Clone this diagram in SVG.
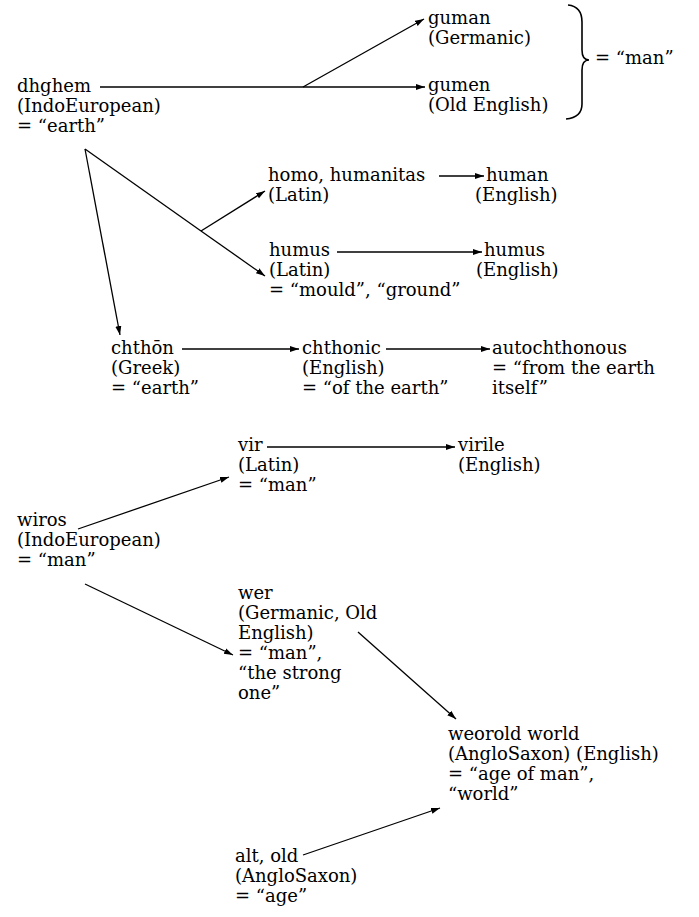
<svg xmlns="http://www.w3.org/2000/svg" width="699" height="917" viewBox="0 0 699 917">
<style>
text{font-family:"DejaVu Serif","Liberation Serif",serif;font-size:18px;fill:#000}
.c line,.c path{stroke:#000;stroke-width:1.3;fill:none}
.c line{marker-end:url(#ah)}
.brace{stroke:#000;stroke-width:1.6;fill:none}
</style>
<defs>
<marker id="ah" markerUnits="userSpaceOnUse" markerWidth="10" markerHeight="8" refX="9" refY="3.5" orient="auto">
<path d="M0,0.5 L9,3.5 L0,6.5 Z" fill="#000"/>
</marker>
</defs>
<rect width="699" height="917" fill="#fff"/>
<g class="c" id="connectors">
<path d="M100,87 L303,87"/>
<line x1="303" y1="87" x2="425" y2="87"/>
<line x1="303" y1="87" x2="424" y2="19"/>
<path d="M85,149 L201,231"/>
<line x1="201" y1="231" x2="265" y2="276"/>
<line x1="201" y1="231" x2="265" y2="191"/>
<line x1="85" y1="149" x2="120" y2="335"/>
<line x1="439" y1="176" x2="484" y2="176"/>
<line x1="337" y1="252" x2="482" y2="252"/>
<line x1="182" y1="349" x2="299" y2="349"/>
<line x1="386" y1="349" x2="490" y2="349"/>
<line x1="267" y1="447" x2="455" y2="447"/>
<line x1="78" y1="529" x2="229" y2="477"/>
<line x1="85" y1="584" x2="233" y2="655"/>
<line x1="358" y1="632" x2="456" y2="719"/>
<line x1="303" y1="855" x2="440" y2="808"/>
</g>
<g id="n-dhghem"><text x="17" y="92">dhghem</text><text x="17" y="112">(IndoEuropean)</text><text x="17" y="132">= “earth”</text></g>
<g id="n-guman"><text x="428" y="24">guman</text><text x="428" y="44">(Germanic)</text></g>
<g id="n-gumen"><text x="428" y="91">gumen</text><text x="428" y="111">(Old English)</text></g>
<g id="n-man"><path class="brace" d="M568,5 C578,6 582,12 582,22 L582,50 C582,56 584,60 589,60 C584,60 582,64 582,70 L582,104 C582,113 576,118 566,119"/><text x="595" y="64">= “man”</text></g>
<g id="n-homo"><text x="268" y="181">homo, humanitas</text><text x="268" y="201">(Latin)</text></g>
<g id="n-human"><text x="486" y="181">human</text><text x="475" y="201">(English)</text></g>
<g id="n-humus-la"><text x="269" y="256">humus</text><text x="269" y="276">(Latin)</text><text x="269" y="296">= “mould”, “ground”</text></g>
<g id="n-humus-en"><text x="484" y="256">humus</text><text x="476" y="276">(English)</text></g>
<g id="n-chthon"><text x="111" y="354">chthōn</text><text x="111" y="374">(Greek)</text><text x="111" y="394">= “earth”</text></g>
<g id="n-chthonic"><text x="302" y="354">chthonic</text><text x="302" y="374">(English)</text><text x="302" y="394">= “of the earth”</text></g>
<g id="n-auto"><text x="492" y="354">autochthonous</text><text x="492" y="374">= “from the earth</text><text x="492" y="394">itself”</text></g>
<g id="n-vir"><text x="238" y="451">vir</text><text x="238" y="471">(Latin)</text><text x="238" y="491">= “man”</text></g>
<g id="n-virile"><text x="458" y="451">virile</text><text x="458" y="471">(English)</text></g>
<g id="n-wiros"><text x="17" y="526">wiros</text><text x="17" y="546">(IndoEuropean)</text><text x="17" y="566">= “man”</text></g>
<g id="n-wer"><text x="238" y="599">wer</text><text x="238" y="619">(Germanic, Old</text><text x="238" y="639">English)</text><text x="238" y="659">= “man”,</text><text x="238" y="679">“the strong</text><text x="238" y="699">one”</text></g>
<g id="n-weorold"><text x="448" y="740">weorold world</text><text x="448" y="760">(AngloSaxon) (English)</text><text x="448" y="780">= “age of man”,</text><text x="448" y="800">“world”</text></g>
<g id="n-alt"><text x="235" y="862">alt, old</text><text x="235" y="882">(AngloSaxon)</text><text x="235" y="902">= “age”</text></g>
</svg>
